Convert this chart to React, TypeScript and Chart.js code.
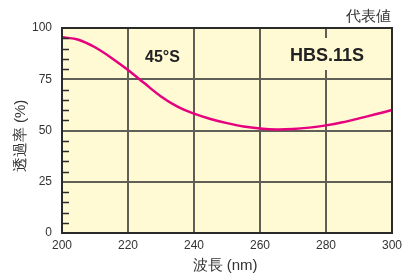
import React, { useEffect, useRef } from "react";
import { Chart, registerables } from "chart.js";

Chart.register(...registerables);

const wavelengths = [200, 205, 210, 215, 220, 225, 230, 235, 240, 245, 250, 255, 260, 265, 270, 275, 280, 285, 290, 295, 300];
const transmission = [95.5, 94.3, 90.6, 85.4, 79.5, 73.0, 66.6, 61.6, 58.2, 55.6, 53.6, 52.0, 51.0, 50.5, 50.7, 51.4, 52.5, 54.0, 55.9, 57.9, 60.0];
const xTicks = [200, 220, 240, 260, 280, 300];
const yTicks = [0, 25, 50, 75, 100];
const minorYTicks = [5, 10, 15, 20, 30, 35, 40, 45, 55, 60, 65, 70, 80, 85, 90, 95];

const titleText = "代表値";
const xTitle = "波長 (nm)";
const yTitle = "透過率 (%)";
const label1 = "45°S";
const label2 = "HBS.11S";

const BG = "#FFF9D4";
const GRID = "#5f5f58";
const BORDER = "#2a2a2a";
const TXT = "#333333";
const FONT = "'Liberation Sans', Arial, sans-serif";

const decor = {
  id: "decor",
  beforeDraw(chart: any) {
    const { ctx, chartArea: a } = chart;
    ctx.save();
    ctx.fillStyle = BG;
    ctx.fillRect(a.left, a.top, a.right - a.left, a.bottom - a.top);
    ctx.restore();
  },
  afterDatasetsDraw(chart: any) {
    const { ctx, chartArea: a } = chart;
    const y = chart.scales.y;
    const x = chart.scales.x;
    ctx.save();
    ctx.strokeStyle = BORDER;
    ctx.lineWidth = 1.5;
    minorYTicks.forEach((v) => {
      const py = Math.round(y.getPixelForValue(v)) + 0.5;
      ctx.beginPath();
      ctx.moveTo(a.left, py);
      ctx.lineTo(a.left + 7, py);
      ctx.stroke();
    });
    ctx.lineWidth = 2;
    ctx.strokeStyle = BORDER;
    ctx.strokeRect(a.left, a.top, a.right - a.left, a.bottom - a.top);

    const cx2 = x.getPixelForValue(280) + 1;
    ctx.fillStyle = BG;
    ctx.fillRect(cx2 - 40, a.top + 10, 80, 32);

    ctx.fillStyle = "#222222";
    ctx.textAlign = "center";
    ctx.textBaseline = "middle";
    ctx.font = `bold 18px ${FONT}`;
    ctx.fillText(label2, cx2, 56);
    ctx.font = `bold 16px ${FONT}`;
    ctx.fillText(label1, 162.5, 58);

    ctx.fillStyle = TXT;
    ctx.font = `15px ${FONT}`;
    ctx.textAlign = "right";
    ctx.fillText(titleText, 391, 17);
    ctx.textAlign = "center";
    ctx.fillText(xTitle, 225, 266);
    ctx.translate(21, 136);
    ctx.rotate(-Math.PI / 2);
    ctx.fillText(yTitle, 0, 0);
    ctx.restore();
  },
};

export default function App() {
  const ref = useRef<HTMLCanvasElement | null>(null);
  useEffect(() => {
    if (!ref.current) return;
    const chart = new Chart(ref.current, {
      type: "line",
      data: {
        datasets: [
          {
            data: wavelengths.map((w, i) => ({ x: w, y: transmission[i] })),
            borderColor: "#E6007E",
            borderWidth: 2.5,
            pointRadius: 0,
            tension: 0.35,
            fill: false,
          },
        ],
      },
      options: {
        animation: false,
        responsive: false,
        layout: { padding: { top: 28, right: 19, left: 0, bottom: 0 } },
        plugins: { legend: { display: false }, tooltip: { enabled: false }, title: { display: false } },
        scales: {
          x: {
            type: "linear",
            min: 200,
            max: 300,
            afterFit: (s: any) => {
              s.height = 41;
            },
            afterBuildTicks: (s: any) => {
              s.ticks = xTicks.map((v) => ({ value: v }));
            },
            ticks: { font: { size: 12, family: FONT }, color: TXT, padding: 5, maxRotation: 0, autoSkip: false },
            grid: {
              drawTicks: false,
              lineWidth: 2,
              color: (c: any) => (c.tick && (c.tick.value === 200 || c.tick.value === 300) ? "rgba(0,0,0,0)" : GRID),
            },
            border: { display: false },
          },
          y: {
            min: 0,
            max: 100,
            afterFit: (s: any) => {
              s.width = 62;
            },
            afterBuildTicks: (s: any) => {
              s.ticks = yTicks.map((v) => ({ value: v }));
            },
            ticks: { font: { size: 12, family: FONT }, color: TXT, padding: 10 },
            grid: {
              drawTicks: false,
              lineWidth: 2,
              color: (c: any) => (c.tick && (c.tick.value === 0 || c.tick.value === 100) ? "rgba(0,0,0,0)" : GRID),
            },
            border: { display: false },
          },
        },
      },
      plugins: [decor],
    } as any);
    return () => chart.destroy();
  }, []);
  return (
    <div style={{ position: "fixed", left: 0, top: 0, width: 411, height: 274, background: "#fff" }}>
      <canvas ref={ref} width={411} height={274} style={{ display: "block" }} />
    </div>
  );
}
